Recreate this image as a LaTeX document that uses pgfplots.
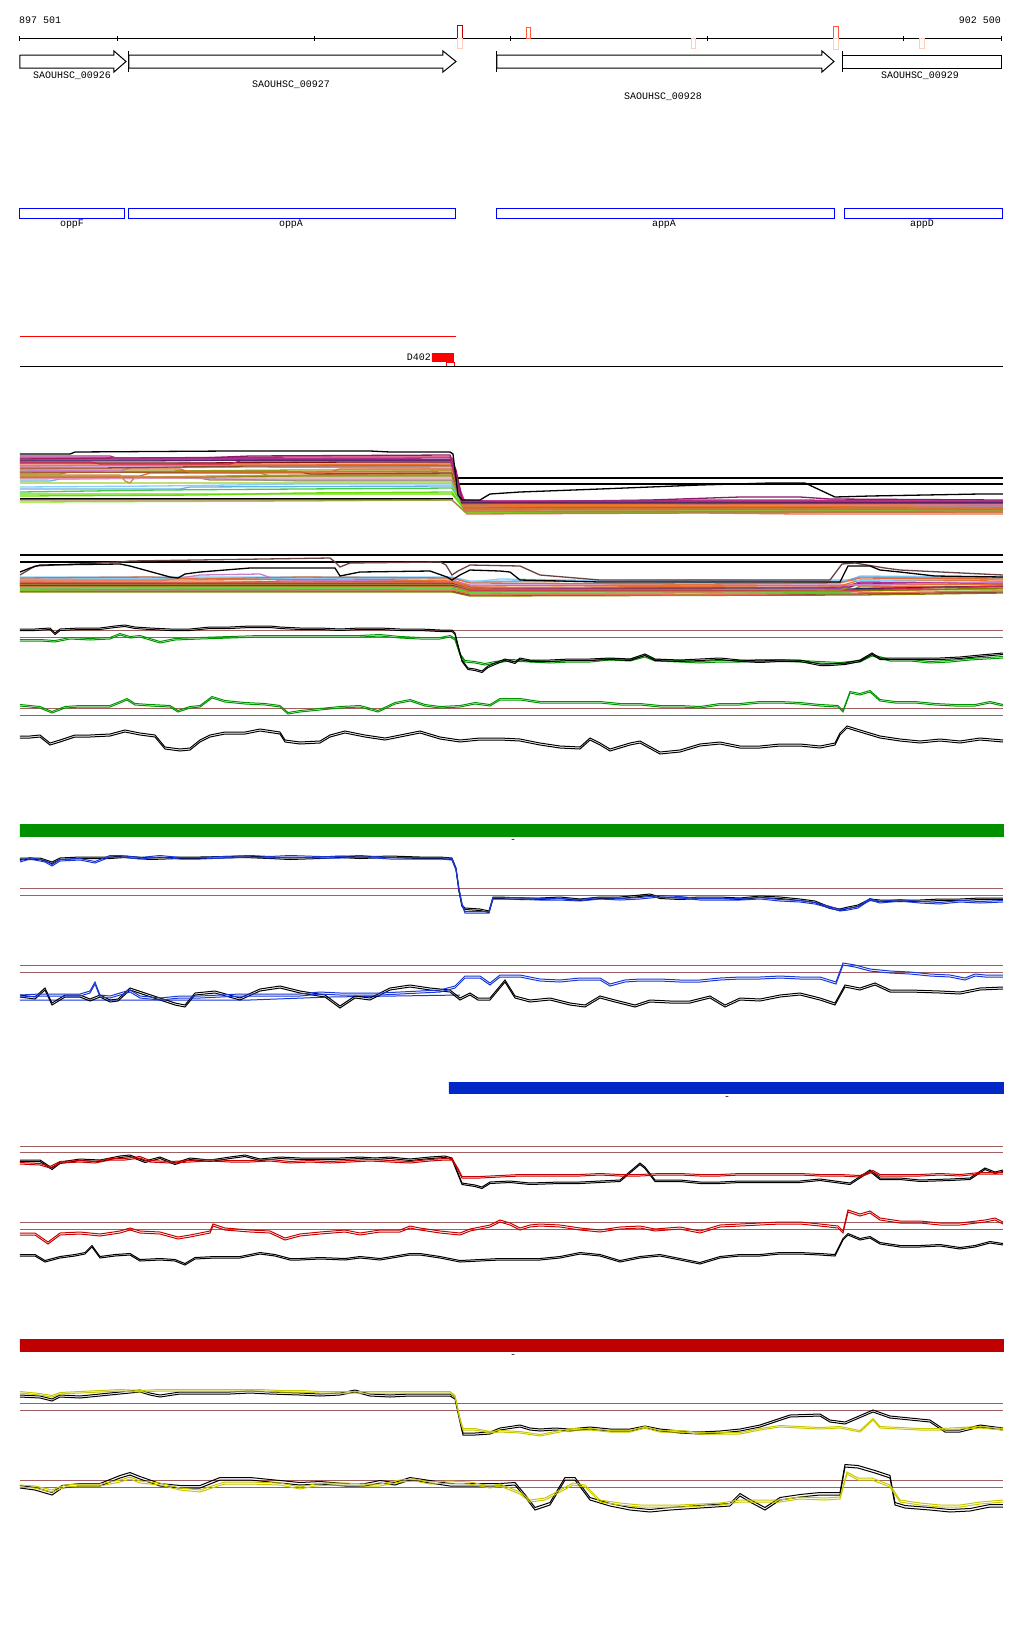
\documentclass[border=0pt]{standalone}
\usepackage{pgfplots}
\usepackage{pgfplotstable}
\pgfplotsset{compat=1.18}
\usepackage{fontspec}
\setmainfont{Liberation Mono}
\definecolor{refbrown}{RGB}{160,96,96}
\definecolor{gbar}{RGB}{0,144,0}
\definecolor{gline}{RGB}{0,150,0}
\definecolor{bbar}{RGB}{0,40,200}
\definecolor{bline}{RGB}{25,55,215}
\definecolor{rbar}{RGB}{190,0,0}
\definecolor{rline}{RGB}{200,0,0}
\definecolor{yline}{RGB}{200,200,0}
\definecolor{mkA}{RGB}{192,0,0}
\definecolor{mkB}{RGB}{255,90,60}
\definecolor{mkP}{RGB}{255,205,190}
\definecolor{cPur}{RGB}{139,26,107}
\definecolor{cCri}{RGB}{204,34,85}
\definecolor{cMag}{RGB}{176,48,144}
\definecolor{cDrd}{RGB}{122,16,16}
\definecolor{cOra}{RGB}{232,112,42}
\definecolor{cBrn}{RGB}{138,74,42}
\definecolor{cOrc}{RGB}{199,127,199}
\definecolor{cOli}{RGB}{154,154,32}
\definecolor{cCor}{RGB}{224,106,58}
\definecolor{cTan}{RGB}{200,144,64}
\definecolor{cOl2}{RGB}{128,128,0}
\definecolor{cPnk}{RGB}{224,144,176}
\definecolor{cLbl}{RGB}{102,178,230}
\definecolor{cYgr}{RGB}{154,205,50}
\definecolor{cSky}{RGB}{135,206,250}
\definecolor{cGrn}{RGB}{68,204,68}
\definecolor{cLim}{RGB}{102,221,0}
\definecolor{cTa2}{RGB}{176,128,80}
\definecolor{cLi2}{RGB}{119,238,17}
\definecolor{cSal}{RGB}{232,112,80}
\definecolor{cNav}{RGB}{32,32,96}
\definecolor{cDbr}{RGB}{107,64,64}

% ---- wiggle tracks (x = pixel column, y = pixel row) ----
\pgfplotstableread[row sep=\\]{x y\\ 20 629\\ 35 629\\ 50 628\\ 55 633\\ 60 629\\ 80 628\\ 100 628\\ 115 626\\ 125 625\\ 135 627\\ 150 628\\ 170 629\\ 190 629\\ 210 627\\ 230 627\\ 250 626\\ 270 626\\ 280 627\\ 300 628\\ 320 628\\ 340 629\\ 360 628\\ 380 628\\ 400 629\\ 420 629\\ 440 630\\ 452 630\\ 455 633\\ 458 645\\ 462 660\\ 468 668\\ 475 669\\ 482 671\\ 488 666\\ 495 663\\ 505 659\\ 515 662\\ 520 658\\ 530 660\\ 550 660\\ 570 659\\ 590 659\\ 610 658\\ 630 659\\ 645 654\\ 655 659\\ 680 660\\ 700 659\\ 720 658\\ 740 660\\ 760 661\\ 780 660\\ 800 660\\ 820 664\\ 830 664\\ 845 663\\ 860 660\\ 872 653\\ 880 658\\ 900 658\\ 920 658\\ 940 658\\ 960 657\\ 980 655\\ 1003 653\\}\GOneK
\pgfplotstableread[row sep=\\]{x y\\ 20 641\\ 40 641\\ 55 642\\ 70 639\\ 90 640\\ 110 639\\ 120 635\\ 130 638\\ 140 637\\ 150 640\\ 160 643\\ 175 640\\ 200 639\\ 230 638\\ 260 637\\ 290 637\\ 320 637\\ 360 637\\ 380 636\\ 400 638\\ 420 639\\ 440 639\\ 450 637\\ 455 640\\ 460 655\\ 465 662\\ 475 663\\ 485 665\\ 495 663\\ 510 661\\ 530 662\\ 550 663\\ 570 662\\ 590 662\\ 610 660\\ 630 661\\ 645 657\\ 655 661\\ 680 662\\ 700 663\\ 720 662\\ 740 662\\ 760 661\\ 780 661\\ 800 662\\ 820 663\\ 840 664\\ 860 662\\ 872 656\\ 890 661\\ 910 661\\ 930 663\\ 950 662\\ 970 660\\ 1003 658\\}\GOneG
\pgfplotstableread[row sep=\\]{x y\\ 20 706\\ 30 707\\ 40 708\\ 52 713\\ 65 708\\ 80 707\\ 95 707\\ 110 707\\ 120 703\\ 127 700\\ 135 705\\ 150 706\\ 170 707\\ 178 712\\ 190 708\\ 200 707\\ 212 698\\ 225 702\\ 245 704\\ 265 705\\ 280 707\\ 288 714\\ 300 712\\ 320 710\\ 340 708\\ 360 707\\ 378 712\\ 395 704\\ 410 701\\ 425 706\\ 440 708\\ 460 707\\ 475 704\\ 490 706\\ 500 700\\ 520 700\\ 540 703\\ 560 703\\ 580 703\\ 600 703\\ 620 705\\ 640 705\\ 660 707\\ 680 707\\ 700 708\\ 720 705\\ 740 705\\ 760 703\\ 780 703\\ 800 704\\ 820 706\\ 838 707\\ 843 712\\ 850 693\\ 860 695\\ 870 692\\ 880 701\\ 895 703\\ 915 703\\ 935 705\\ 955 706\\ 975 706\\ 990 703\\ 1003 706\\}\GTwoG
\pgfplotstableread[row sep=\\]{x y\\ 20 738\\ 30 738\\ 40 737\\ 50 745\\ 60 742\\ 75 737\\ 90 737\\ 110 736\\ 125 732\\ 140 735\\ 155 737\\ 165 749\\ 180 751\\ 190 750\\ 200 742\\ 210 737\\ 225 734\\ 245 734\\ 260 731\\ 280 734\\ 285 742\\ 300 744\\ 320 743\\ 330 737\\ 345 733\\ 365 737\\ 385 740\\ 410 735\\ 420 733\\ 440 739\\ 460 742\\ 480 740\\ 500 740\\ 520 741\\ 540 745\\ 560 748\\ 580 749\\ 590 740\\ 600 745\\ 610 751\\ 630 745\\ 640 743\\ 660 754\\ 680 752\\ 700 746\\ 720 744\\ 740 748\\ 760 748\\ 780 746\\ 800 746\\ 820 748\\ 835 745\\ 840 735\\ 847 728\\ 860 732\\ 880 738\\ 900 741\\ 920 743\\ 940 741\\ 960 743\\ 980 740\\ 1003 742\\}\GTwoK
\pgfplotstableread[row sep=\\]{x y\\ 20 862\\ 30 859\\ 45 862\\ 52 866\\ 60 861\\ 80 860\\ 95 863\\ 110 857\\ 120 857\\ 140 859\\ 160 857\\ 180 859\\ 200 859\\ 225 858\\ 250 857\\ 270 858\\ 290 857\\ 320 858\\ 340 858\\ 360 857\\ 390 859\\ 420 859\\ 440 859\\ 452 860\\ 456 870\\ 459 890\\ 462 905\\ 465 913\\ 480 913\\ 489 913\\ 493 899\\ 500 899\\ 520 899\\ 540 900\\ 560 900\\ 580 901\\ 600 899\\ 620 900\\ 640 899\\ 660 897\\ 680 898\\ 700 900\\ 720 900\\ 740 900\\ 760 899\\ 780 901\\ 800 902\\ 815 904\\ 830 908\\ 840 911\\ 848 910\\ 858 908\\ 870 900\\ 880 903\\ 900 901\\ 920 903\\ 940 904\\ 960 902\\ 980 903\\ 1003 902\\}\BOneB
\pgfplotstableread[row sep=\\]{x y\\ 20 858\\ 40 858\\ 52 862\\ 60 858\\ 80 857\\ 110 857\\ 125 856\\ 150 858\\ 180 857\\ 200 857\\ 245 856\\ 270 857\\ 290 858\\ 320 857\\ 340 856\\ 360 857\\ 390 856\\ 420 857\\ 440 857\\ 452 858\\ 456 868\\ 459 890\\ 462 905\\ 465 908\\ 480 909\\ 489 911\\ 493 897\\ 500 897\\ 520 898\\ 540 898\\ 560 897\\ 580 899\\ 600 897\\ 620 897\\ 640 895\\ 650 894\\ 660 897\\ 680 898\\ 700 897\\ 720 897\\ 740 898\\ 760 896\\ 780 897\\ 800 899\\ 815 901\\ 830 907\\ 840 909\\ 848 907\\ 858 905\\ 870 899\\ 880 900\\ 900 900\\ 920 900\\ 940 899\\ 960 899\\ 980 898\\ 1003 898\\}\BOneK
\pgfplotstableread[row sep=\\]{x y\\ 20 997\\ 40 996\\ 60 996\\ 80 996\\ 90 993\\ 95 984\\ 100 997\\ 110 998\\ 130 992\\ 140 998\\ 160 1000\\ 180 998\\ 200 998\\ 220 997\\ 240 996\\ 260 996\\ 280 996\\ 300 996\\ 320 994\\ 340 995\\ 360 995\\ 380 995\\ 400 994\\ 420 993\\ 440 992\\ 455 988\\ 465 978\\ 480 978\\ 490 985\\ 500 977\\ 520 977\\ 540 981\\ 560 982\\ 580 980\\ 600 980\\ 610 986\\ 625 982\\ 640 981\\ 660 981\\ 680 982\\ 700 982\\ 720 980\\ 740 979\\ 760 979\\ 780 978\\ 800 979\\ 820 979\\ 836 984\\ 843 965\\ 855 967\\ 870 971\\ 890 973\\ 910 974\\ 930 976\\ 950 977\\ 965 980\\ 975 976\\ 985 977\\ 1003 977\\}\BTwoB
\pgfplotstableread[row sep=\\]{x y\\ 20 997\\ 35 999\\ 45 990\\ 52 1005\\ 65 997\\ 80 997\\ 90 1001\\ 100 997\\ 110 1002\\ 118 1001\\ 130 990\\ 145 995\\ 160 1000\\ 175 1005\\ 185 1007\\ 195 995\\ 215 993\\ 240 1000\\ 260 991\\ 280 988\\ 300 993\\ 325 997\\ 340 1008\\ 355 998\\ 370 1000\\ 390 990\\ 410 987\\ 430 990\\ 450 992\\ 460 1000\\ 470 995\\ 478 1000\\ 490 1000\\ 505 982\\ 515 998\\ 530 1002\\ 550 1000\\ 570 1005\\ 585 1007\\ 600 998\\ 615 1002\\ 635 1007\\ 650 1002\\ 670 1003\\ 690 1003\\ 710 998\\ 725 1007\\ 740 1000\\ 760 1001\\ 780 997\\ 800 995\\ 820 1000\\ 835 1005\\ 845 987\\ 860 990\\ 875 985\\ 890 992\\ 910 992\\ 940 993\\ 960 994\\ 980 990\\ 1003 989\\}\BTwoK
\pgfplotstableread[row sep=\\]{x y\\ 20 1164\\ 40 1165\\ 50 1168\\ 60 1163\\ 80 1162\\ 95 1163\\ 110 1160\\ 125 1160\\ 140 1158\\ 150 1162\\ 170 1163\\ 190 1162\\ 210 1161\\ 230 1162\\ 250 1162\\ 270 1161\\ 290 1163\\ 310 1162\\ 330 1163\\ 350 1162\\ 370 1161\\ 390 1162\\ 410 1163\\ 430 1161\\ 445 1160\\ 452 1160\\ 458 1170\\ 462 1178\\ 480 1178\\ 500 1177\\ 520 1176\\ 540 1176\\ 560 1176\\ 580 1176\\ 600 1175\\ 620 1176\\ 640 1176\\ 660 1175\\ 680 1175\\ 700 1176\\ 720 1176\\ 740 1175\\ 760 1175\\ 780 1175\\ 800 1175\\ 820 1176\\ 840 1176\\ 860 1177\\ 873 1172\\ 880 1176\\ 900 1176\\ 920 1176\\ 940 1175\\ 960 1176\\ 980 1174\\ 1003 1174\\}\ROneR
\pgfplotstableread[row sep=\\]{x y\\ 20 1160\\ 40 1160\\ 52 1168\\ 60 1162\\ 80 1159\\ 100 1160\\ 120 1156\\ 130 1155\\ 145 1161\\ 160 1157\\ 175 1163\\ 190 1158\\ 210 1160\\ 230 1157\\ 245 1155\\ 260 1159\\ 280 1157\\ 300 1158\\ 320 1158\\ 340 1158\\ 360 1157\\ 375 1158\\ 390 1157\\ 410 1159\\ 430 1157\\ 445 1156\\ 452 1158\\ 456 1168\\ 462 1183\\ 475 1185\\ 482 1187\\ 490 1182\\ 510 1181\\ 530 1183\\ 560 1182\\ 580 1182\\ 600 1181\\ 620 1180\\ 640 1163\\ 645 1167\\ 655 1180\\ 680 1180\\ 700 1182\\ 720 1182\\ 740 1181\\ 760 1181\\ 780 1181\\ 800 1181\\ 820 1179\\ 835 1181\\ 850 1183\\ 870 1170\\ 880 1178\\ 900 1178\\ 920 1180\\ 950 1179\\ 970 1178\\ 985 1168\\ 995 1172\\ 1003 1170\\}\ROneK
\pgfplotstableread[row sep=\\]{x y\\ 20 1235\\ 35 1235\\ 48 1244\\ 60 1235\\ 80 1234\\ 100 1236\\ 120 1233\\ 130 1230\\ 140 1233\\ 160 1234\\ 178 1239\\ 190 1237\\ 210 1233\\ 213 1226\\ 225 1230\\ 250 1232\\ 270 1233\\ 285 1240\\ 300 1236\\ 320 1234\\ 345 1232\\ 360 1235\\ 380 1232\\ 400 1232\\ 410 1228\\ 420 1230\\ 440 1233\\ 460 1235\\ 470 1231\\ 490 1227\\ 500 1222\\ 510 1225\\ 520 1230\\ 530 1227\\ 540 1226\\ 560 1227\\ 580 1230\\ 600 1232\\ 620 1229\\ 640 1228\\ 655 1231\\ 680 1229\\ 700 1233\\ 720 1227\\ 740 1226\\ 760 1225\\ 780 1224\\ 800 1224\\ 820 1226\\ 838 1228\\ 843 1233\\ 848 1212\\ 860 1216\\ 870 1213\\ 880 1220\\ 900 1223\\ 920 1223\\ 940 1225\\ 960 1225\\ 985 1222\\ 995 1220\\ 1003 1224\\}\RTwoR
\pgfplotstableread[row sep=\\]{x y\\ 20 1256\\ 35 1256\\ 45 1262\\ 60 1258\\ 75 1256\\ 85 1254\\ 92 1247\\ 100 1258\\ 115 1256\\ 130 1255\\ 140 1261\\ 160 1260\\ 175 1261\\ 185 1265\\ 195 1259\\ 215 1258\\ 240 1258\\ 260 1254\\ 275 1256\\ 290 1260\\ 300 1260\\ 320 1259\\ 345 1260\\ 360 1258\\ 380 1260\\ 410 1255\\ 420 1255\\ 440 1258\\ 460 1262\\ 480 1261\\ 500 1260\\ 520 1260\\ 540 1260\\ 560 1258\\ 580 1254\\ 600 1256\\ 620 1262\\ 640 1258\\ 660 1256\\ 680 1260\\ 700 1264\\ 720 1258\\ 740 1256\\ 760 1256\\ 780 1254\\ 800 1254\\ 820 1255\\ 835 1256\\ 843 1240\\ 848 1235\\ 860 1240\\ 870 1238\\ 880 1244\\ 900 1247\\ 920 1247\\ 940 1246\\ 960 1249\\ 975 1247\\ 990 1243\\ 1003 1245\\}\RTwoK
\pgfplotstableread[row sep=\\]{x y\\ 20 1393\\ 40 1395\\ 52 1397\\ 60 1394\\ 80 1393\\ 100 1392\\ 120 1391\\ 140 1392\\ 160 1391\\ 180 1391\\ 200 1391\\ 220 1391\\ 240 1391\\ 260 1391\\ 280 1392\\ 300 1392\\ 320 1393\\ 340 1393\\ 360 1393\\ 380 1393\\ 400 1393\\ 420 1393\\ 440 1393\\ 450 1393\\ 455 1397\\ 460 1420\\ 463 1430\\ 475 1430\\ 490 1433\\ 500 1432\\ 520 1433\\ 540 1436\\ 555 1433\\ 570 1430\\ 590 1430\\ 610 1432\\ 630 1432\\ 645 1428\\ 660 1432\\ 680 1432\\ 700 1434\\ 720 1434\\ 740 1434\\ 760 1430\\ 780 1427\\ 800 1428\\ 820 1429\\ 840 1428\\ 860 1432\\ 873 1420\\ 880 1428\\ 900 1429\\ 920 1430\\ 940 1430\\ 960 1429\\ 980 1428\\ 1003 1430\\}\YOneY
\pgfplotstableread[row sep=\\]{x y\\ 20 1395\\ 40 1396\\ 52 1399\\ 60 1395\\ 80 1396\\ 100 1394\\ 120 1392\\ 140 1390\\ 150 1393\\ 160 1395\\ 180 1392\\ 200 1392\\ 230 1392\\ 250 1391\\ 270 1392\\ 300 1393\\ 320 1394\\ 340 1393\\ 355 1390\\ 370 1394\\ 390 1395\\ 410 1394\\ 430 1394\\ 450 1394\\ 455 1397\\ 460 1420\\ 463 1433\\ 475 1433\\ 490 1432\\ 500 1428\\ 520 1425\\ 530 1428\\ 540 1429\\ 555 1428\\ 570 1429\\ 590 1427\\ 610 1429\\ 630 1429\\ 645 1426\\ 660 1429\\ 680 1431\\ 700 1432\\ 720 1431\\ 740 1429\\ 760 1425\\ 790 1415\\ 820 1414\\ 830 1420\\ 845 1422\\ 873 1410\\ 890 1416\\ 910 1418\\ 930 1420\\ 945 1430\\ 960 1430\\ 980 1425\\ 1003 1428\\}\YOneK
\pgfplotstableread[row sep=\\]{x y\\ 20 1485\\ 35 1486\\ 52 1490\\ 65 1485\\ 80 1484\\ 100 1484\\ 120 1480\\ 130 1477\\ 140 1481\\ 160 1483\\ 180 1488\\ 200 1490\\ 215 1485\\ 225 1482\\ 250 1482\\ 280 1483\\ 300 1487\\ 315 1484\\ 330 1483\\ 345 1483\\ 365 1484\\ 380 1484\\ 400 1480\\ 415 1479\\ 430 1482\\ 450 1481\\ 470 1482\\ 490 1486\\ 500 1484\\ 520 1492\\ 530 1500\\ 545 1498\\ 560 1490\\ 573 1483\\ 585 1485\\ 600 1500\\ 620 1503\\ 640 1505\\ 660 1505\\ 680 1505\\ 700 1504\\ 720 1503\\ 740 1500\\ 760 1500\\ 780 1500\\ 800 1497\\ 825 1498\\ 840 1497\\ 847 1472\\ 858 1478\\ 872 1478\\ 890 1485\\ 900 1500\\ 920 1503\\ 940 1505\\ 960 1505\\ 980 1502\\ 1003 1500\\}\YTwoY
\pgfplotstableread[row sep=\\]{x y\\ 20 1488\\ 35 1490\\ 52 1495\\ 62 1488\\ 80 1486\\ 100 1486\\ 120 1478\\ 130 1475\\ 140 1479\\ 160 1486\\ 180 1488\\ 200 1488\\ 220 1480\\ 250 1480\\ 280 1483\\ 300 1485\\ 320 1484\\ 345 1486\\ 365 1486\\ 380 1483\\ 395 1485\\ 410 1480\\ 430 1483\\ 450 1486\\ 470 1486\\ 490 1486\\ 500 1486\\ 515 1485\\ 525 1497\\ 535 1510\\ 550 1505\\ 565 1480\\ 575 1480\\ 590 1500\\ 610 1506\\ 630 1510\\ 650 1512\\ 670 1510\\ 700 1508\\ 730 1506\\ 740 1496\\ 750 1502\\ 765 1510\\ 780 1500\\ 800 1497\\ 820 1495\\ 840 1495\\ 845 1467\\ 858 1468\\ 875 1473\\ 890 1478\\ 895 1505\\ 905 1508\\ 930 1510\\ 950 1512\\ 970 1511\\ 990 1507\\ 1003 1507\\}\YTwoK

\begin{document}
\begin{tikzpicture}
\begin{axis}[width=1024bp, height=1640bp, scale only axis,
  xmin=0, xmax=1024, ymin=0, ymax=1640, y dir=reverse,
  hide axis, clip=false,
  every axis plot/.append style={line width=1bp, mark=none},
  ]
\path[fill=white] (axis cs:0,0) rectangle (axis cs:1024,1640);
% ---------- ruler ----------
\addplot[black] coordinates {(20,38) (1002,38)};
\addplot[black] coordinates {(20,36) (20,41)};
\addplot[black] coordinates {(118,36) (118,41)};
\addplot[black] coordinates {(315,36) (315,41)};
\addplot[black] coordinates {(511,36) (511,41)};
\addplot[black] coordinates {(708,36) (708,41)};
\addplot[black] coordinates {(904,36) (904,41)};
\addplot[black] coordinates {(1002,36) (1002,41)};
\addplot[mkA] coordinates {(458,25) (463,25) (463,38) (458,38) (458,25)};
\addplot[mkP] coordinates {(458,38) (463,38) (463,48) (458,48) (458,38)};
\addplot[mkB] coordinates {(527,27) (531,27) (531,38) (527,38) (527,27)};
\addplot[mkP] coordinates {(692,38) (696,38) (696,48) (692,48) (692,38)};
\addplot[mkB] coordinates {(834,26) (839,26) (839,38) (834,38) (834,26)};
\addplot[mkP] coordinates {(834,38) (839,38) (839,49) (834,49) (834,38)};
\addplot[mkP] coordinates {(920,38) (925,38) (925,48) (920,48) (920,38)};
\node[anchor=west, font=\fontsize{10}{12}\selectfont, inner sep=0pt] at (axis cs:19,20) {897 501};
\node[anchor=east, font=\fontsize{10}{12}\selectfont, inner sep=0pt] at (axis cs:1001,20) {902 500};
% ---------- genes ----------
\addplot[black, fill=white] coordinates {(20,55) (114,55) (114,51) (126,61.5) (114,72) (114,68) (20,68) (20,55)};
\addplot[black] coordinates {(129,51) (129,72)};
\addplot[black, fill=white] coordinates {(129,55) (443,55) (443,51) (456,61.5) (443,72) (443,68) (129,68) (129,55)};
\addplot[black] coordinates {(497,51) (497,72)};
\addplot[black, fill=white] coordinates {(497,55) (822,55) (822,51) (834,61.5) (822,72) (822,68) (497,68) (497,55)};
\addplot[black] coordinates {(843,51) (843,72)};
\addplot[black, fill=white] coordinates {(843,55) (1002,55) (1002,68) (843,68) (843,55)};
\begin{scope}[every node/.style={font=\fontsize{10}{12}\selectfont, inner sep=0pt}]
\node at (axis cs:72,76) {SAOUHSC\_00926};
\node at (axis cs:291,85) {SAOUHSC\_00927};
\node at (axis cs:663,97) {SAOUHSC\_00928};
\node at (axis cs:920,76) {SAOUHSC\_00929};
\node at (axis cs:72,224) {oppF};
\node at (axis cs:291,224) {oppA};
\node at (axis cs:664,224) {appA};
\node at (axis cs:922,224) {appD};
\node[anchor=east] at (axis cs:431,357) {D402};
\node at (axis cs:513,841) {-};
\node at (axis cs:727,1098) {-};
\node at (axis cs:513,1356) {-};
\end{scope}
\addplot[blue] coordinates {(20,208) (125,208) (125,218) (20,218) (20,208)};
\addplot[blue] coordinates {(129,208) (456,208) (456,218) (129,218) (129,208)};
\addplot[blue] coordinates {(497,208) (835,208) (835,218) (497,218) (497,208)};
\addplot[blue] coordinates {(845,208) (1003,208) (1003,218) (845,218) (845,208)};
\addplot[red] coordinates {(20,336) (456,336)};
\addplot[red, fill=red, line width=0.3bp] coordinates {(432,353) (453,353) (453,361) (432,361) (432,353)};
\addplot[red] coordinates {(447,362) (455,362) (455,366) (447,366) (447,362)};
\addplot[black] coordinates {(20,366) (1003,366)};
% ---------- bundle 1 ----------
\begin{scope}[every axis plot/.append style={line width=1.3bp}]
\addplot[black, line width=1bp] coordinates {(20,499) (453,499)};
\addplot[black, line width=1bp] coordinates {(453,478) (1003,478)};
\addplot[black, line width=1bp] coordinates {(453,484) (1003,484)};
\addplot[cSal] coordinates {(20,465) (452,465) (467,514) (700,513) (800,514) (1003,514)};
\addplot[cLi2] coordinates {(20,502) (300,501) (452,500) (466,512) (1003,513)};
\addplot[cTa2] coordinates {(20,500) (300,500) (452,500) (466,513) (1003,512)};
\addplot[cLim] coordinates {(20,496) (200,495) (300,493) (452,492) (466,512) (1003,511)};
\addplot[cLim] coordinates {(20,494) (452,494) (466,511) (1003,510)};
\addplot[cGrn] coordinates {(20,492) (160,490) (300,489) (452,488) (466,511) (1003,511)};
\addplot[cLbl] coordinates {(20,489) (180,489) (190,487) (452,486) (465,506) (1003,507)};
\addplot[cSky] coordinates {(20,487) (160,486) (300,484) (452,484) (465,508) (1003,508)};
\addplot[cYgr] coordinates {(20,483) (200,483) (452,483) (465,510) (1003,510)};
\addplot[cLbl] coordinates {(20,481) (50,481) (60,479) (180,478) (300,481) (452,481) (465,505) (1003,505)};
\addplot[cTa2] coordinates {(20,478) (200,478) (210,480) (452,480) (465,509) (1003,510)};
\addplot[cPnk] coordinates {(20,479) (200,478) (452,478) (465,510) (1003,509)};
\addplot[cOl2] coordinates {(20,477) (200,477) (300,476) (452,476) (464,509) (1003,509)};
\addplot[cCor] coordinates {(20,476) (140,476) (150,473) (452,473) (465,511) (1003,512)};
\addplot[cTan] coordinates {(20,475) (120,475) (125,481) (130,483) (135,477) (300,475) (452,474) (464,506) (1003,506)};
\addplot[cOli] coordinates {(20,474) (60,474) (70,472) (260,473) (270,476) (452,475) (464,509) (1003,508)};
\addplot[cCor] coordinates {(20,473) (130,472) (300,472) (452,471) (464,508) (1003,508)};
\addplot[cBrn] coordinates {(20,472) (300,472) (310,474) (452,473) (464,507) (1003,507)};
\addplot[cOli] coordinates {(20,471) (160,471) (300,470) (452,470) (464,507) (600,506) (1003,507)};
\addplot[cOrc] coordinates {(20,470) (120,471) (130,468) (250,467) (452,468) (463,506) (1003,506)};
\addplot[cOra] coordinates {(20,469) (180,469) (190,472) (330,472) (340,469) (452,469) (464,506) (900,507) (1003,508)};
\addplot[cBrn] coordinates {(20,468) (100,468) (250,466) (452,466) (463,504) (1003,504)};
\addplot[cOra] coordinates {(20,466) (150,465) (300,465) (452,464) (463,505) (700,504) (1003,505)};
\addplot[cOrc] coordinates {(20,466) (170,466) (180,463) (452,463) (463,503) (1003,504)};
\addplot[cDrd] coordinates {(20,463) (200,463) (350,462) (452,462) (462,503) (1003,503)};
\addplot[cCri] coordinates {(20,462) (90,462) (100,464) (230,464) (240,461) (452,461) (463,503) (560,503) (570,501) (1003,503)};
\addplot[cMag] coordinates {(20,461) (150,461) (250,460) (450,460) (460,490) (465,502) (600,501) (700,500) (800,500) (1003,502)};
\addplot[cNav] coordinates {(20,460) (452,460) (462,502) (1003,502)};
\addplot[cCri] coordinates {(20,459) (120,458) (300,457) (450,457) (458,480) (463,501) (1003,501)};
\addplot[cPur] coordinates {(20,458) (200,458) (250,456) (450,455) (456,470) (462,500) (500,502) (650,500) (740,497) (800,497) (830,499) (1003,500)};
\addplot[cMag] coordinates {(20,456) (110,456) (120,459) (452,458) (461,501) (1003,501)};
\addplot[black, line width=1bp] coordinates {(20,454) (70,454) (75,452) (230,451) (370,451) (390,452) (450,452) (453,454) (458,495) (462,500) (480,500) (490,494) (520,492) (600,489) (700,485) (770,483) (805,483) (820,490) (835,497) (870,496) (980,494) (1003,494)};
% ---------- bundle 2 ----------
\addplot[black, line width=1bp] coordinates {(20,555) (1003,555)};
\addplot[black, line width=1bp] coordinates {(20,562) (1003,562)};
\addplot[cSky] coordinates {(20,577) (452,577) (470,581) (850,580) (860,576) (1003,577)};
\addplot[cOl2] coordinates {(20,592) (200,592) (452,592) (470,596) (860,595) (1003,593)};
\addplot[cBrn] coordinates {(20,591) (452,591) (470,595) (850,594) (1003,592)};
\addplot[cLim] coordinates {(20,590) (200,589) (452,589) (470,593) (700,594) (850,592) (860,589) (1003,590)};
\addplot[cSal] coordinates {(20,589) (452,590) (470,594) (700,595) (850,593) (1003,591)};
\addplot[cGrn] coordinates {(20,588) (452,588) (470,592) (850,592) (860,587) (1003,588)};
\addplot[cTan] coordinates {(20,587) (452,587) (470,590) (850,591) (1003,589)};
\addplot[cOl2] coordinates {(20,586) (452,586) (470,591) (850,591) (1003,588)};
\addplot[cCor] coordinates {(20,586) (200,585) (452,586) (470,591) (700,592) (850,591) (860,586) (1003,587)};
\addplot[cNav] coordinates {(20,585) (452,585) (470,589) (850,589) (1003,586)};
\addplot[cCri] coordinates {(20,584) (300,584) (452,584) (470,590) (850,590) (1003,586)};
\addplot[cOli] coordinates {(20,584) (200,584) (452,584) (470,589) (700,589) (840,590) (860,584) (1003,585)};
\addplot[cPur] coordinates {(20,583) (452,583) (470,588) (700,588) (850,587) (860,583) (1003,584)};
\addplot[cMag] coordinates {(20,582) (200,583) (300,581) (452,582) (470,587) (520,588) (700,587) (840,588) (860,582) (1003,583)};
\addplot[cOra] coordinates {(20,582) (452,582) (470,588) (1003,584)};
\addplot[cOrc] coordinates {(20,581) (160,581) (200,575) (260,574) (280,581) (452,580) (470,585) (850,585) (1003,582)};
\addplot[cOra] coordinates {(20,580) (200,580) (350,579) (452,581) (470,586) (700,585) (840,586) (860,580) (1003,581)};
\addplot[cLbl] coordinates {(20,579) (150,579) (300,578) (452,578) (470,582) (700,580) (840,582) (860,577) (1003,578)};
\addplot[cSky] coordinates {(20,578) (160,578) (452,578) (470,582) (500,579) (700,582) (1003,579)};
\addplot[cCor] coordinates {(20,578) (150,577) (200,579) (300,577) (452,578) (470,583) (700,584) (840,583) (860,578) (1003,579)};
\addplot[cDbr, line width=1bp] coordinates {(20,575) (35,566) (120,562) (130,561) (330,558) (335,562) (340,567) (350,563) (440,562) (446,565) (452,575) (458,571) (470,565) (520,566) (540,575) (600,580) (830,580) (842,564) (855,563) (885,568) (900,570) (1003,575)};
\addplot[black, line width=1bp] coordinates {(20,572) (30,568) (40,565) (120,564) (130,566) (170,577) (178,578) (185,574) (200,572) (250,568) (320,568) (335,568) (340,576) (345,575) (360,572) (430,571) (447,577) (452,580) (460,575) (470,570) (500,571) (510,572) (520,580) (600,582) (840,582) (848,566) (870,566) (880,570) (900,572) (935,576) (1003,577)};
\end{scope}
% ---------- green panel ----------
\addplot[refbrown] coordinates {(20,630) (1003,630)};
\addplot[refbrown] coordinates {(20,637) (1003,637)};
\addplot[gline] table {\GOneG};
\addplot[gline, yshift=1.5bp] table {\GOneG};
\addplot[black] table {\GOneK};
\addplot[black, yshift=-1.5bp] table {\GOneK};
\addplot[refbrown] coordinates {(20,708) (1003,708)};
\addplot[refbrown] coordinates {(20,715) (1003,715)};
\addplot[gline] table {\GTwoG};
\addplot[gline, yshift=1.5bp] table {\GTwoG};
\addplot[black] table {\GTwoK};
\addplot[black, yshift=2bp] table {\GTwoK};
% ---------- blue panel ----------
\addplot[gbar, fill=gbar, line width=0.2bp] coordinates {(20,824) (1003,824) (1003,836) (20,836) (20,824)};
\addplot[refbrown] coordinates {(20,888) (1003,888)};
\addplot[refbrown] coordinates {(20,895) (1003,895)};
\addplot[black] table {\BOneK};
\addplot[black, yshift=-1.5bp] table {\BOneK};
\addplot[bline] table {\BOneB};
\addplot[bline, yshift=1.5bp] table {\BOneB};
\addplot[refbrown] coordinates {(20,965) (1003,965)};
\addplot[refbrown] coordinates {(20,972) (1003,972)};
\addplot[bline] coordinates {(20,1000) (250,1000) (330,997) (460,995)};
\addplot[black] table {\BTwoK};
\addplot[black, yshift=2bp] table {\BTwoK};
\addplot[bline] table {\BTwoB};
\addplot[bline, yshift=2bp] table {\BTwoB};
% ---------- red panel ----------
\addplot[bbar, fill=bbar, line width=0.2bp] coordinates {(449,1082) (1003,1082) (1003,1093) (449,1093) (449,1082)};
\addplot[refbrown] coordinates {(20,1146) (1003,1146)};
\addplot[refbrown] coordinates {(20,1152) (1003,1152)};
\addplot[black] table {\ROneK};
\addplot[black, yshift=-1.5bp] table {\ROneK};
\addplot[rline] table {\ROneR};
\addplot[rline, yshift=1.5bp] table {\ROneR};
\addplot[refbrown] coordinates {(20,1222) (1003,1222)};
\addplot[refbrown] coordinates {(20,1229) (1003,1229)};
\addplot[rline] table {\RTwoR};
\addplot[rline, yshift=2bp] table {\RTwoR};
\addplot[black] table {\RTwoK};
\addplot[black, yshift=1.5bp] table {\RTwoK};
% ---------- yellow panel ----------
\addplot[rbar, fill=rbar, line width=0.2bp] coordinates {(20,1339) (1003,1339) (1003,1351) (20,1351) (20,1339)};
\addplot[refbrown] coordinates {(20,1403) (1003,1403)};
\addplot[refbrown] coordinates {(20,1410) (1003,1410)};
\addplot[black] table {\YOneK};
\addplot[black, yshift=-2bp] table {\YOneK};
\addplot[yline] table {\YOneY};
\addplot[yline, yshift=1.5bp] table {\YOneY};
\addplot[refbrown] coordinates {(20,1480) (1003,1480)};
\addplot[refbrown] coordinates {(20,1487) (1003,1487)};
\addplot[black] table {\YTwoK};
\addplot[black, yshift=2.5bp] table {\YTwoK};
\addplot[yline] table {\YTwoY};
\addplot[yline, yshift=-2bp] table {\YTwoY};
\end{axis}
\end{tikzpicture}
\end{document}
